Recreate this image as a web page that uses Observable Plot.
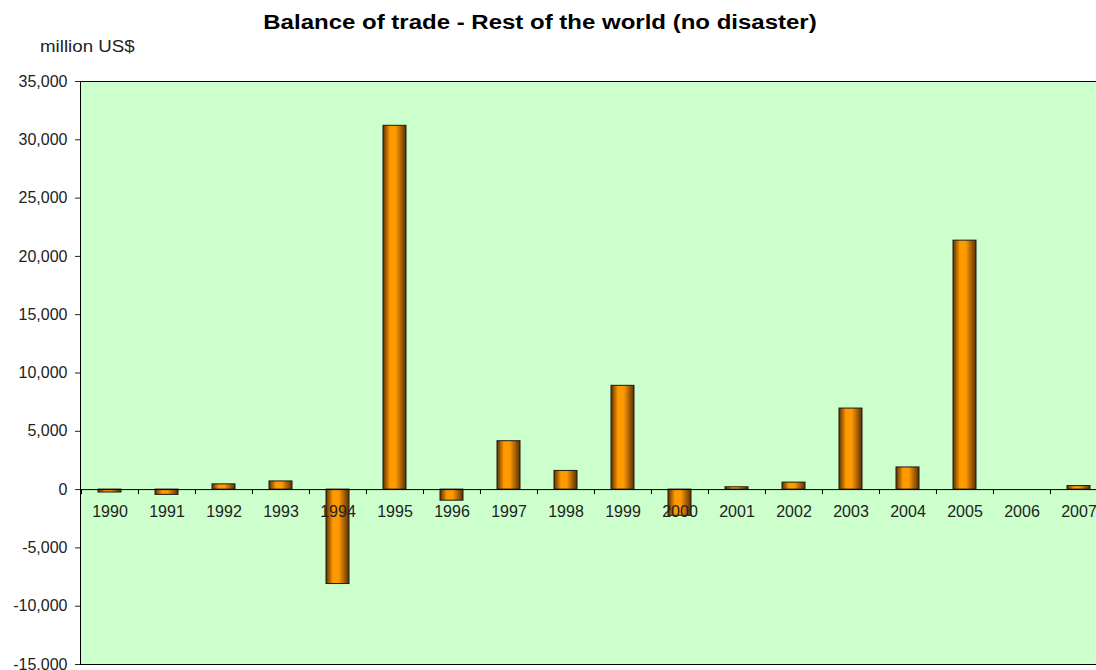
<!DOCTYPE html>
<html>
<head>
<meta charset="utf-8">
<script src="https://cdn.jsdelivr.net/npm/d3@7"></script>
<script src="https://cdn.jsdelivr.net/npm/@observablehq/plot@0.6"></script>
<style>
  body { margin: 0; background: #fff; font-family: "Liberation Sans", Arial, sans-serif; overflow: hidden; }
  #header { position: relative; width: 1096px; height: 60px; }
  #title { position: absolute; left: 0; top: 10px; width: 1080px; text-align: center; font-weight: bold;
           font-size: 20px; line-height: 24px; color: #000; transform: scaleX(1.2); }
  #unit { position: absolute; left: 40px; top: 37px; font-size: 16px; line-height: 20px; color: #222;
          transform: scaleX(1.17); transform-origin: left center; }
  #chart { width: 1096px; height: 610px; overflow: hidden; }
  #chart svg { max-width: none !important; }
</style>
</head>
<body>
<div id="header">
  <div id="title">Balance of trade - Rest of the world (no disaster)</div>
  <div id="unit">million US$</div>
</div>
<div id="chart"></div>
<script>
// Balance of trade, million US$
const years = [1990, 1991, 1992, 1993, 1994, 1995, 1996, 1997, 1998, 1999,
               2000, 2001, 2002, 2003, 2004, 2005, 2006, 2007];
const balance = [-250, -450, 450, 700, -8100, 31200, -950, 4150, 1600, 8900,
                 -2250, 200, 600, 6950, 1900, 21350, 0, 300];
const yTicks = [-15000, -10000, -5000, 0, 5000, 10000, 15000, 20000, 25000, 30000, 35000];

const data = years.map((year, i) => ({year, value: balance[i]}));

const width = 1107;
const marginLeft = 80;
const step = (width - marginLeft) / years.length;

const chart = Plot.plot({
  width,
  height: 610,
  marginTop: 21,
  marginBottom: 6,
  marginLeft,
  marginRight: 0,
  style: {fontFamily: "'Liberation Sans', Arial, sans-serif", fontSize: "16px", color: "#222", background: "white"},
  x: {type: "band", domain: years, paddingInner: 0.6, paddingOuter: 0.3, axis: null},
  y: {domain: [-15000, 35000]},
  marks: [
    Plot.frame({fill: "#ccffcc", stroke: "black"}),
    Plot.barY(data, {x: "year", y: "value", fill: "url(#bar-shade)", stroke: "#1a1a1a", strokeWidth: 1}),
    Plot.ruleY([0], {stroke: "black"}),
    // category separators below the zero line
    Plot.ruleX(years, {x: d => d, y1: 0, y2: -430, dx: -step / 2, stroke: "black"}),
    Plot.text(years, {x: d => d, y: 0, dy: 22, text: d => String(d), fontSize: 16, fill: "#222"}),
    Plot.axisY(yTicks, {tickSize: 5, tickPadding: 8, tickFormat: d => d.toLocaleString("en-US"), label: null})
  ]
});

// horizontal shading for the cylinder-like bars
const defs = d3.select(chart).insert("defs", ":first-child");
const grad = defs.append("linearGradient").attr("id", "bar-shade")
  .attr("x1", "0%").attr("x2", "100%").attr("y1", "0%").attr("y2", "0%");
[[0, "#5c3000"], [0.3, "#ff9900"], [0.55, "#ff9900"], [1, "#5c3000"]].forEach(([o, c]) =>
  grad.append("stop").attr("offset", o).attr("stop-color", c));

document.getElementById("chart").append(chart);
</script>
</body>
</html>
